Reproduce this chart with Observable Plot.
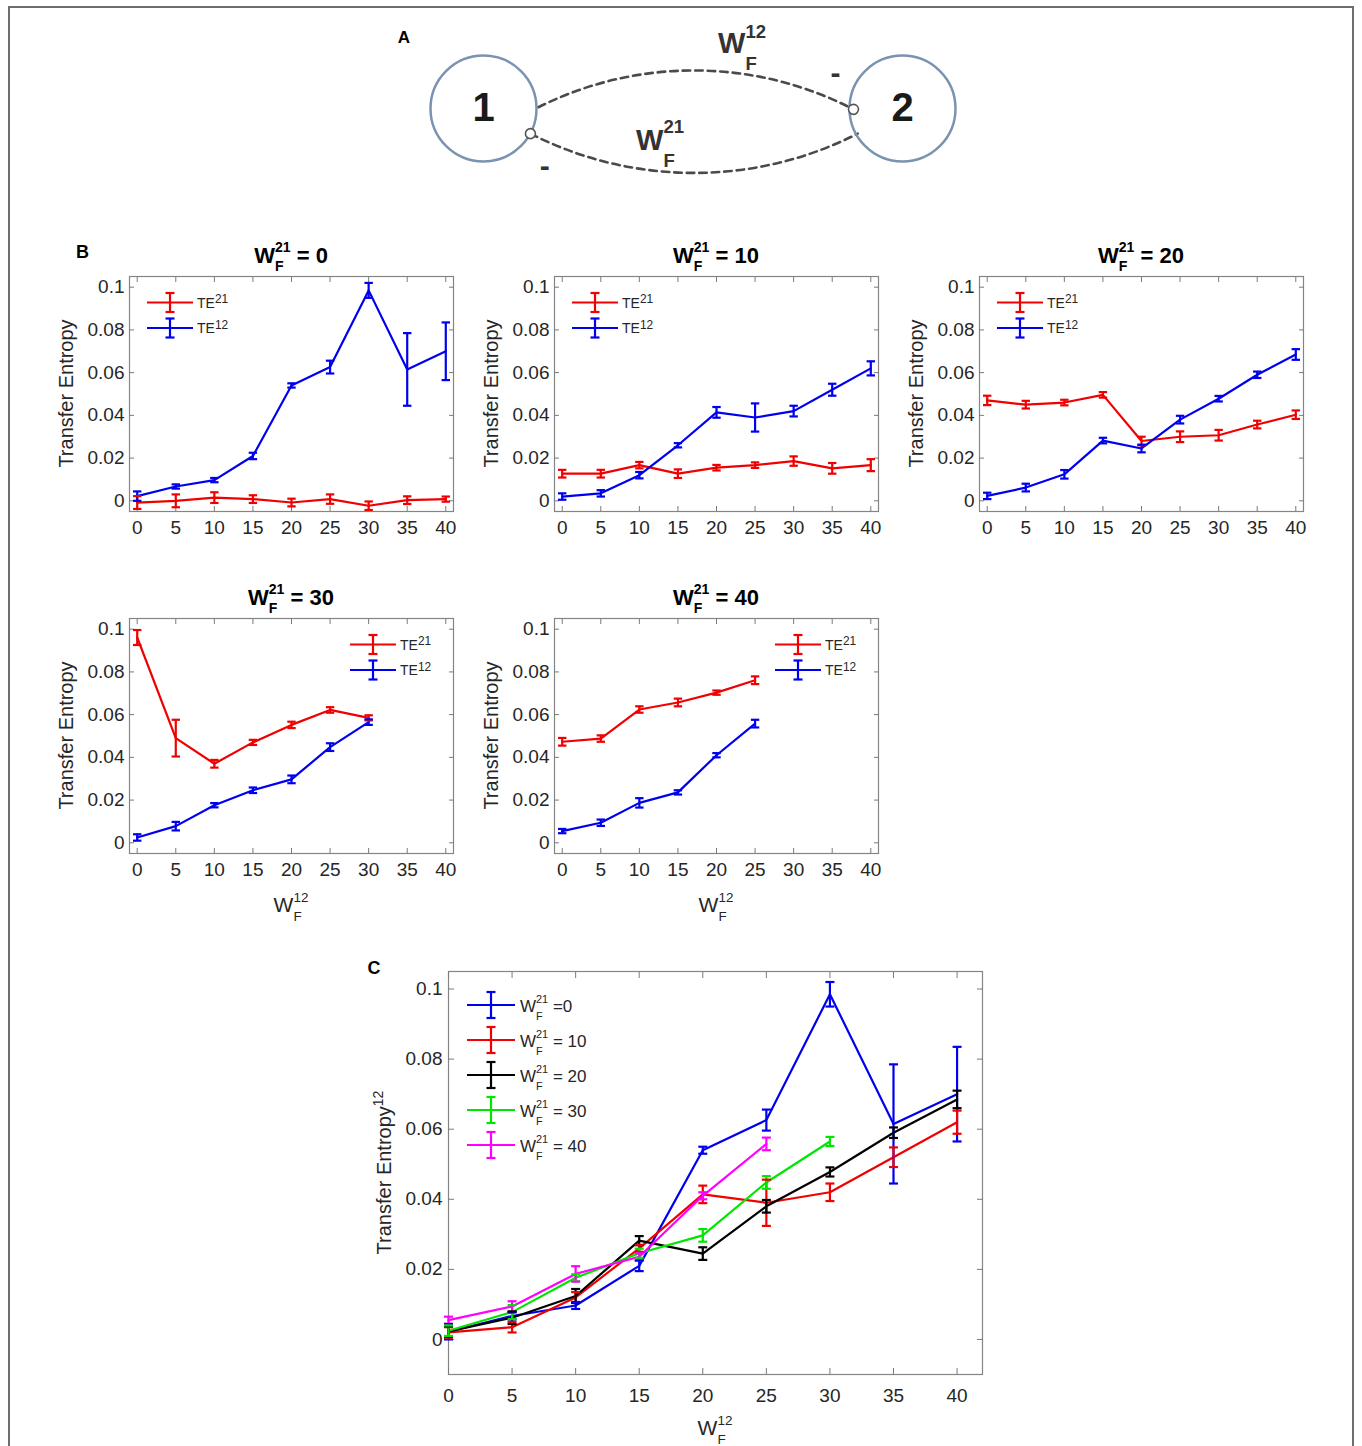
<!DOCTYPE html>
<html>
<head>
<meta charset="utf-8">
<script src="https://cdn.jsdelivr.net/npm/d3@7"></script>
<script src="https://cdn.jsdelivr.net/npm/@observablehq/plot@0.6"></script>
<style>
html, body { margin:0; padding:0; background:#fff; }
#fig { position:relative; width:1362px; height:1446px; overflow:hidden; background:#fff; font-family:"Liberation Sans", Arial, Helvetica, sans-serif; }
#border { position:absolute; left:8px; top:6px; width:1346px; height:1500px; border:2px solid #6d6d6d; border-bottom:none; box-sizing:border-box; }
#fig svg { position:absolute; overflow:visible; }
</style>
</head>
<body>
<div id="fig"><div id="border"></div></div>
<script>
// ---------------- data ----------------
const wf12 = [0, 5, 10, 15, 20, 25, 30, 35, 40];
const wf21Levels = [0, 10, 20, 30, 40];
const xTickValues = [0, 5, 10, 15, 20, 25, 30, 35, 40];
const yTickValues = [0, 0.02, 0.04, 0.06, 0.08, 0.1];
const yTickLabels = ["0", "0.02", "0.04", "0.06", "0.08", "0.1"];

// W_F^21 = 0
const te12_w0  = [0.0022, 0.0067, 0.0097, 0.0210, 0.0540, 0.0626, 0.0985, 0.0615, 0.0700];
const err12_w0 = [0.0022, 0.0010, 0.0010, 0.0015, 0.0010, 0.0030, 0.0035, 0.0170, 0.0135];
const te21_w0  = [-0.0008, 0.0000, 0.0015, 0.0008, -0.0008, 0.0008, -0.0023, 0.0003, 0.0008];
const err21_w0 = [0.0030, 0.0030, 0.0025, 0.0018, 0.0018, 0.0022, 0.0020, 0.0018, 0.0012];
// W_F^21 = 10
const te12_w10  = [0.0020, 0.0035, 0.0120, 0.0260, 0.0414, 0.0390, 0.0420, 0.0520, 0.0620];
const err12_w10 = [0.0015, 0.0015, 0.0015, 0.0010, 0.0025, 0.0066, 0.0025, 0.0028, 0.0033];
const te21_w10  = [0.0127, 0.0127, 0.0167, 0.0127, 0.0155, 0.0167, 0.0186, 0.0152, 0.0167];
const err21_w10 = [0.0018, 0.0018, 0.0015, 0.0020, 0.0013, 0.0013, 0.0022, 0.0025, 0.0028];
// W_F^21 = 20
const te12_w20  = [0.0023, 0.0062, 0.0124, 0.0282, 0.0245, 0.0380, 0.0478, 0.0590, 0.0685];
const err12_w20 = [0.0015, 0.0018, 0.0020, 0.0013, 0.0018, 0.0018, 0.0013, 0.0015, 0.0025];
const te21_w20  = [0.0470, 0.0450, 0.0460, 0.0496, 0.0280, 0.0300, 0.0307, 0.0357, 0.0403];
const err21_w20 = [0.0022, 0.0018, 0.0013, 0.0013, 0.0020, 0.0025, 0.0025, 0.0018, 0.0020];
// W_F^21 = 30
const te12_w30  = [0.0025, 0.0078, 0.0176, 0.0246, 0.0297, 0.0448, 0.0565];
const err12_w30 = [0.0015, 0.0020, 0.0010, 0.0013, 0.0018, 0.0018, 0.0013];
const te21_w30  = [0.0961, 0.0490, 0.0370, 0.0470, 0.0552, 0.0622, 0.0585];
const err21_w30 = [0.0035, 0.0086, 0.0018, 0.0012, 0.0015, 0.0013, 0.0012];
// W_F^21 = 40
const te12_w40  = [0.0055, 0.0094, 0.0187, 0.0236, 0.0410, 0.0558];
const err12_w40 = [0.0010, 0.0015, 0.0022, 0.0010, 0.0010, 0.0018];
const te21_w40  = [0.0473, 0.0488, 0.0624, 0.0657, 0.0703, 0.0761];
const err21_w40 = [0.0018, 0.0015, 0.0015, 0.0018, 0.0010, 0.0018];

const te12ByW21  = [te12_w0, te12_w10, te12_w20, te12_w30, te12_w40];
const err12ByW21 = [err12_w0, err12_w10, err12_w20, err12_w30, err12_w40];
const te21ByW21  = [te21_w0, te21_w10, te21_w20, te21_w30, te21_w40];
const err21ByW21 = [err21_w0, err21_w10, err21_w20, err21_w30, err21_w40];

const seriesNames = ["TE21", "TE12"];
const seriesSup = ["21", "12"];
const seriesColors = ["#f00000", "#0000f0"];
const levelColors = ["#0000f0", "#f00000", "#000000", "#00e600", "#ff00ff"];
const levelLegend = [" =0", " = 10", " = 20", " = 30", " = 40"];

// schematic (panel A), in node-distance units
const nodes = [{id: "1", u: 0, v: 0}, {id: "2", u: 1, v: 0}];
const upperLink = [{u1: 0.131, v1: -0.003, u2: 0.883, v2: 0.002}];
const lowerLink = [{u1: 0.112, v1: 0.060, u2: 0.893, v2: 0.060}];
const synapses = [{u: 0.112, v: 0.060}, {u: 0.883, v: 0.002}];
const signs = [{mark: "-", u: 0.840, v: -0.084}, {mark: "-", u: 0.146, v: 0.137}];

// ---------------- drawing ----------------
const fig = document.getElementById("fig");
const FONT = '"Liberation Sans", Arial, Helvetica, sans-serif';
const tickColor = "#7a7a7a";
const labelColor = "#262626";
const frameColor = "#858585";

function place(el, left, top) {
  el.style.position = "absolute";
  el.style.left = left + "px";
  el.style.top = top + "px";
  fig.appendChild(el);
}
const capSymbol = (w) => ({draw(ctx) { ctx.moveTo(-w, 0); ctx.lineTo(w, 0); }});
const fmtY = d => yTickLabels[yTickValues.indexOf(d)];

function axesMarks(tickLen, padY, padX, fontSize) {
  const common = {stroke: tickColor, fill: labelColor, fontSize, label: null, strokeWidth: 1};
  return [
    Plot.axisY(yTickValues, {...common, anchor: "left", tickSize: -tickLen, tickPadding: padY + tickLen, tickFormat: fmtY}),
    Plot.axisY(yTickValues, {...common, anchor: "right", tickSize: -tickLen, tickPadding: 0, tickFormat: () => ""}),
    Plot.axisX(xTickValues, {...common, anchor: "bottom", tickSize: -tickLen, tickPadding: padX + tickLen, tickFormat: d => String(d)}),
    Plot.axisX(xTickValues, {...common, anchor: "top", tickSize: -tickLen, tickPadding: 0, tickFormat: () => ""})
  ];
}
function errMarks(rows, capW, sw) {
  return [
    Plot.line(rows, {x: "x", y: "y", z: "s", stroke: "s", strokeWidth: sw}),
    Plot.ruleX(rows, {x: "x", y1: "lo", y2: "hi", stroke: "s", strokeWidth: sw}),
    Plot.dot(rows, {x: "x", y: "lo", symbol: capSymbol(capW), stroke: "s", strokeWidth: sw, fill: "none"}),
    Plot.dot(rows, {x: "x", y: "hi", symbol: capSymbol(capW), stroke: "s", strokeWidth: sw, fill: "none"})
  ];
}
function rowsFor(name, vals, errs) {
  return vals.map((v, i) => ({s: name, x: wf12[i], y: v, lo: v - errs[i], hi: v + errs[i]}));
}
const plotStyle = {background: "transparent", overflow: "visible", fontFamily: FONT, fontSize: "19px", color: labelColor};

// Panel A
const plotA = Plot.plot({
  width: 620, height: 200, margin: 0,
  x: {domain: [0, 1], range: [103, 522], axis: null},
  y: {domain: [0, 1], range: [108, 527], axis: null},
  style: plotStyle,
  marks: [
    Plot.arrow(upperLink, {x1: "u1", y1: "v1", x2: "u2", y2: "v2", bend: 27, headLength: 0, stroke: "#4a4a4a", strokeWidth: 2.6, strokeDasharray: "7.5,5"}),
    Plot.arrow(lowerLink, {x1: "u1", y1: "v1", x2: "u2", y2: "v2", bend: -27, headLength: 0, stroke: "#4a4a4a", strokeWidth: 2.6, strokeDasharray: "7.5,5"}),
    Plot.dot(nodes, {x: "u", y: "v", r: 53, stroke: "#7a93b0", strokeWidth: 2.5, fill: "none"}),
    Plot.dot(synapses, {x: "u", y: "v", r: 5, stroke: "#555", strokeWidth: 1.6, fill: "white"}),
    Plot.text(nodes, {x: "u", y: "v", text: "id", fontSize: 40, fontWeight: "bold", fill: "#1a1a1a"}),
    Plot.text(signs, {x: "u", y: "v", text: "mark", fontSize: 30, fontWeight: "bold", fill: "#333"})
  ]
});
place(plotA, 380, 0);

// Panels B
const bLayout = [{left: 129, top: 276}, {left: 554, top: 276}, {left: 979, top: 276}, {left: 129, top: 618}, {left: 554, top: 618}];
const bLegendRight = [false, false, false, true, true];
const bW = 324, bH = 235, bM = {l: 55, r: 12, t: 12, b: 40};
wf21Levels.forEach((lvl, k) => {
  const rows = [
    ...rowsFor("TE21", te21ByW21[k], err21ByW21[k]),
    ...rowsFor("TE12", te12ByW21[k], err12ByW21[k])
  ];
  const p = Plot.plot({
    width: bW + bM.l + bM.r, height: bH + bM.t + bM.b,
    marginLeft: bM.l, marginRight: bM.r, marginTop: bM.t, marginBottom: bM.b,
    x: {domain: [-1, 41]}, y: {domain: [-0.005, 0.105]},
    color: {domain: seriesNames, range: seriesColors},
    style: plotStyle,
    marks: [
      Plot.frame({stroke: frameColor, strokeWidth: 1.2}),
      ...axesMarks(5, 5, 9, 19),
      ...errMarks(rows, 4.2, 2.2)
    ]
  });
  place(p, bLayout[k].left - bM.l, bLayout[k].top - bM.t);
});

// Panel C
const cFrame = {left: 448, top: 971, w: 534, h: 403};
const cM = {l: 60, r: 12, t: 12, b: 45};
const cRows = [];
wf21Levels.forEach((lvl, k) => te12ByW21[k].forEach((v, i) =>
  cRows.push({s: lvl, x: wf12[i], y: v, lo: v - err12ByW21[k][i], hi: v + err12ByW21[k][i]})));
const plotC = Plot.plot({
  width: cFrame.w + cM.l + cM.r, height: cFrame.h + cM.t + cM.b,
  marginLeft: cM.l, marginRight: cM.r, marginTop: cM.t, marginBottom: cM.b,
  x: {domain: [0, 42]}, y: {domain: [-0.01, 0.105]},
  color: {type: "ordinal", domain: wf21Levels, range: levelColors},
  style: plotStyle,
  marks: [
    Plot.frame({stroke: frameColor, strokeWidth: 1.2}),
    ...axesMarks(6, 6, 14, 19),
    ...errMarks(cRows, 4.5, 2.2)
  ]
});
place(plotC, cFrame.left - cM.l, cFrame.top - cM.t);

// ---------------- text overlay ----------------
const ov = d3.select(fig).append("svg")
  .attr("width", 1362).attr("height", 1446)
  .style("left", "0px").style("top", "0px")
  .style("font-family", FONT);

function rich(parts, {x, y, size, weight = "normal", anchor = "middle", rotate = 0, fill = labelColor}) {
  const g = ov.append("g").attr("transform", `translate(${x},${y}) rotate(${rotate})`);
  const inner = g.append("g");
  let cx = 0;
  const addText = (str, px, py, fs) => {
    const t = inner.append("text").attr("x", px).attr("y", py)
      .attr("font-size", fs).attr("font-weight", weight).attr("fill", fill)
      .style("white-space", "pre").text(str);
    return t.node().getComputedTextLength();
  };
  for (const p of parts) {
    if (typeof p === "string") {
      cx += addText(p, cx, 0, size);
    } else {
      const fs = size * (p.scale ?? 0.64);
      let w = 0;
      if (p.sup) w = Math.max(w, addText(p.sup, cx, -size * (p.up ?? 0.46), fs));
      if (p.sub) w = Math.max(w, addText(p.sub, cx, size * (p.down ?? 0.39), fs));
      cx += w;
    }
  }
  const dx = anchor === "middle" ? -cx / 2 : anchor === "end" ? -cx : 0;
  inner.attr("transform", `translate(${dx},0)`);
}
function swatch(x1, x2, y, half, capW, color) {
  const xm = (x1 + x2) / 2;
  const g = ov.append("g").attr("stroke", color).attr("stroke-width", 2.2).attr("fill", "none");
  g.append("line").attr("x1", x1).attr("x2", x2).attr("y1", y).attr("y2", y);
  g.append("line").attr("x1", xm).attr("x2", xm).attr("y1", y - half).attr("y2", y + half);
  g.append("line").attr("x1", xm - capW).attr("x2", xm + capW).attr("y1", y - half).attr("y2", y - half);
  g.append("line").attr("x1", xm - capW).attr("x2", xm + capW).attr("y1", y + half).attr("y2", y + half);
}

// panel letters
rich(["A"], {x: 404, y: 43, size: 17, weight: "bold", fill: "#000"});
rich(["B"], {x: 82.5, y: 258, size: 18, weight: "bold", fill: "#000"});
rich(["C"], {x: 374, y: 974, size: 18, weight: "bold", fill: "#000"});

// panel A labels
rich(["W", {sup: "12", sub: "F", up: 0.52, down: 0.58}], {x: 718, y: 53, size: 29, weight: "bold", anchor: "start", fill: "#333"});
rich(["W", {sup: "21", sub: "F", up: 0.58, down: 0.6}], {x: 636, y: 150, size: 29, weight: "bold", anchor: "start", fill: "#333"});

// panels B texts
wf21Levels.forEach((lvl, k) => {
  const {left, top} = bLayout[k];
  rich(["W", {sup: "21", sub: "F"}, " = " + lvl], {x: left + bW / 2, y: top - 13.5, size: 22, weight: "bold", fill: "#000"});
  rich(["Transfer Entropy"], {x: left - 56, y: top + bH / 2, size: 20, rotate: -90});
  if (k >= 3) rich(["W", {sup: "12", sub: "F", up: 0.5, down: 0.45}], {x: left + bW / 2, y: 912, size: 21});
  const lx = bLegendRight[k] ? left + 221 : left + 18;
  [26.5, 52].forEach((dy, j) => {
    swatch(lx, lx + 46, top + dy, 9.5, 4.5, seriesColors[j]);
    rich(["TE", {sup: seriesSup[j], scale: 0.85, up: 0.3}], {x: lx + 50, y: top + dy + 5, size: 14, anchor: "start"});
  });
});

// panel C texts
rich(["Transfer Entropy", {sup: "12", scale: 0.7, up: 0.42}], {x: 391, y: cFrame.top + cFrame.h / 2, size: 20, rotate: -90});
rich(["W", {sup: "12", sub: "F", up: 0.5, down: 0.45}], {x: cFrame.left + cFrame.w / 2, y: 1435, size: 21});
wf21Levels.forEach((lvl, k) => {
  const y = 1005 + 35 * k;
  swatch(467, 515, y, 13, 4.5, levelColors[k]);
  rich(["W", {sup: "21", sub: "F", up: 0.55, down: 0.48}, levelLegend[k]], {x: 520, y: y + 7, size: 17, anchor: "start"});
});
</script>
</body>
</html>
